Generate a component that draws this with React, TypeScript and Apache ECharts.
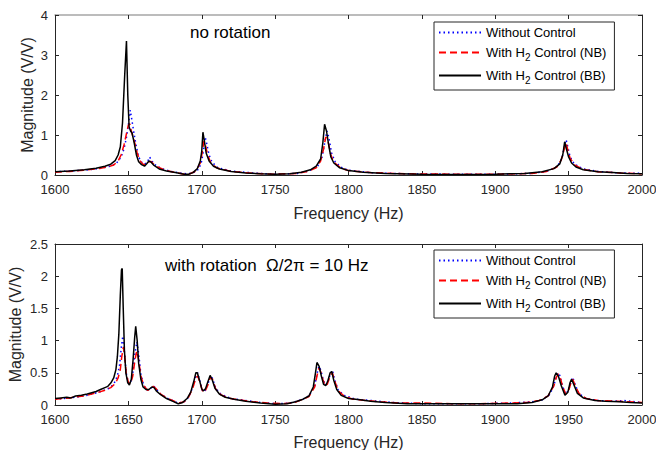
import React, { useEffect, useRef } from "react";
import * as echarts from "echarts";

// Top panel (no rotation)
const topWithout: [number, number][] = [[1600,0.08],[1610,0.1],[1620,0.12],[1630,0.16],[1638,0.22],[1642,0.3],[1645,0.45],[1647,0.65],[1648.5,0.9],[1650,1.25],[1651.3,1.62],[1652.5,1.35],[1654,1.0],[1655.5,0.7],[1657,0.45],[1659,0.32],[1661,0.27],[1663,0.33],[1664.5,0.45],[1666,0.35],[1668,0.26],[1672,0.17],[1678,0.1],[1685,0.05],[1690,0.03],[1694,0.05],[1698,0.15],[1700,0.35],[1701.5,0.7],[1702.3,0.95],[1703.3,0.8],[1705,0.5],[1707,0.32],[1711,0.18],[1720,0.1],[1735,0.05],[1750,0.02],[1765,0.04],[1773,0.1],[1779,0.22],[1782,0.45],[1784,0.85],[1785.3,1.1],[1786.5,0.95],[1788.5,0.55],[1791,0.32],[1796,0.17],[1800,0.12],[1815,0.06],[1840,0.03],[1870,0.02],[1900,0.02],[1925,0.04],[1935,0.09],[1942,0.2],[1945.5,0.42],[1947.3,0.75],[1948.3,0.88],[1949.5,0.7],[1951,0.45],[1954,0.27],[1960,0.15],[1970,0.09],[1985,0.05],[2000,0.04]];
const topNB: [number, number][] = [[1600,0.07],[1610,0.09],[1620,0.12],[1630,0.16],[1636,0.2],[1640,0.25],[1643,0.35],[1645,0.5],[1647,0.75],[1648.5,1.0],[1650,1.25],[1651,1.28],[1652,1.1],[1654,0.85],[1656,0.55],[1658,0.35],[1660,0.27],[1662,0.26],[1664,0.33],[1665.5,0.34],[1667,0.28],[1670,0.2],[1675,0.12],[1682,0.06],[1688,0.02],[1692,0.03],[1696,0.1],[1699,0.3],[1700.5,0.6],[1701.5,0.85],[1702.5,0.75],[1704,0.5],[1706,0.32],[1710,0.18],[1720,0.09],[1735,0.04],[1750,0.02],[1765,0.04],[1772,0.09],[1778,0.18],[1781,0.35],[1783,0.65],[1784.5,0.95],[1786,0.85],[1788,0.5],[1790,0.32],[1795,0.17],[1800,0.11],[1815,0.06],[1840,0.03],[1870,0.02],[1900,0.02],[1925,0.04],[1935,0.09],[1942,0.2],[1945,0.38],[1947,0.65],[1948.3,0.8],[1949.5,0.62],[1951,0.42],[1954,0.25],[1960,0.14],[1970,0.08],[1985,0.05],[2000,0.03]];
const topBB: [number, number][] = [[1600,0.08],[1610,0.1],[1620,0.13],[1628,0.17],[1634,0.22],[1638,0.27],[1641,0.36],[1643,0.5],[1644.5,0.7],[1646,1.3],[1647.5,2.5],[1648.7,3.35],[1649.6,2.0],[1650.5,1.2],[1651.5,1.1],[1652.5,1.05],[1654,0.8],[1655.5,0.5],[1657,0.33],[1659,0.26],[1661,0.22],[1662.5,0.28],[1664,0.35],[1665.5,0.32],[1667.5,0.24],[1671,0.15],[1676,0.1],[1682,0.06],[1688,0.02],[1691,0.02],[1694,0.06],[1697,0.16],[1699,0.35],[1700,0.6],[1700.8,1.07],[1701.8,0.85],[1703,0.55],[1705,0.35],[1708,0.22],[1712,0.15],[1720,0.09],[1730,0.05],[1740,0.03],[1750,0.02],[1760,0.03],[1768,0.07],[1774,0.13],[1778,0.22],[1781,0.4],[1782.5,0.8],[1783.7,1.27],[1785,1.1],[1786.5,0.75],[1788,0.45],[1790,0.3],[1794,0.18],[1800,0.11],[1810,0.07],[1825,0.04],[1850,0.02],[1875,0.01],[1900,0.02],[1920,0.04],[1932,0.08],[1940,0.16],[1944,0.28],[1946,0.5],[1947.3,0.83],[1948.5,0.65],[1950,0.45],[1952,0.3],[1955,0.2],[1960,0.13],[1970,0.08],[1980,0.06],[1990,0.04],[2000,0.03]];

// Bottom panel (with rotation)
const botWithout: [number, number][] = [[1600,0.09],[1610,0.11],[1620,0.14],[1630,0.2],[1636,0.25],[1640,0.32],[1642.5,0.45],[1644,0.62],[1645.2,0.9],[1646.2,1.07],[1647.2,0.85],[1648.5,0.5],[1650,0.34],[1651.5,0.34],[1653,0.5],[1654.5,0.8],[1655.8,0.98],[1657,0.8],[1658.5,0.48],[1660.5,0.3],[1663,0.23],[1665,0.25],[1667,0.3],[1669,0.25],[1672,0.17],[1676,0.11],[1680,0.07],[1684,0.03],[1688,0.05],[1691,0.12],[1694,0.28],[1696,0.45],[1697.2,0.5],[1699,0.35],[1700.5,0.22],[1702,0.21],[1704,0.31],[1706,0.45],[1707.2,0.42],[1709.5,0.26],[1713,0.17],[1720,0.1],[1730,0.07],[1740,0.04],[1750,0.02],[1760,0.03],[1768,0.08],[1773,0.14],[1777,0.3],[1778.5,0.48],[1779.8,0.6],[1781,0.55],[1782.5,0.42],[1784,0.31],[1785.5,0.33],[1787.5,0.47],[1789,0.54],[1790.5,0.4],[1793,0.23],[1797,0.15],[1805,0.09],[1815,0.07],[1830,0.04],[1850,0.02],[1870,0.02],[1890,0.02],[1910,0.03],[1925,0.05],[1932,0.08],[1937,0.16],[1940,0.3],[1941.5,0.44],[1942.8,0.5],[1944,0.46],[1946,0.28],[1948,0.17],[1950,0.23],[1951.8,0.38],[1952.8,0.43],[1954.5,0.31],[1957,0.18],[1962,0.1],[1970,0.07],[1980,0.06],[1988,0.07],[1995,0.05],[2000,0.04]];
const botNB: [number, number][] = [[1600,0.09],[1605,0.1],[1610,0.11],[1615,0.13],[1620,0.14],[1625,0.17],[1630,0.2],[1634,0.23],[1638,0.27],[1641,0.33],[1643,0.42],[1644.5,0.55],[1645.5,0.75],[1646.6,0.9],[1647.5,0.75],[1648.5,0.5],[1650,0.35],[1651.5,0.33],[1653,0.45],[1654.5,0.7],[1655.7,0.84],[1657,0.7],[1658.5,0.45],[1660.5,0.3],[1663,0.23],[1665,0.24],[1667,0.29],[1669,0.25],[1672,0.17],[1676,0.11],[1680,0.07],[1684,0.03],[1688,0.05],[1691,0.12],[1694,0.27],[1696,0.42],[1697.3,0.45],[1699,0.33],[1700.5,0.22],[1702,0.2],[1704,0.3],[1706,0.43],[1707.3,0.4],[1709.5,0.25],[1713,0.16],[1718,0.11],[1725,0.08],[1735,0.05],[1745,0.03],[1755,0.02],[1762,0.03],[1768,0.08],[1773,0.13],[1777,0.28],[1778.5,0.45],[1779.8,0.57],[1781,0.52],[1782.5,0.4],[1784,0.3],[1785.5,0.32],[1787.5,0.45],[1789,0.5],[1790.5,0.38],[1793,0.22],[1797,0.14],[1803,0.09],[1812,0.07],[1822,0.05],[1835,0.03],[1850,0.03],[1870,0.02],[1890,0.02],[1910,0.03],[1922,0.04],[1930,0.07],[1936,0.14],[1940,0.3],[1941.5,0.42],[1942.8,0.48],[1944,0.45],[1946,0.28],[1948,0.17],[1950,0.22],[1951.8,0.36],[1952.8,0.4],[1954.5,0.3],[1957,0.18],[1962,0.1],[1970,0.07],[1980,0.06],[1990,0.05],[2000,0.04]];
const botBB: [number, number][] = [[1600,0.1],[1604,0.11],[1608,0.12],[1611,0.11],[1614,0.14],[1618,0.15],[1622,0.17],[1625,0.19],[1628,0.21],[1631,0.24],[1634,0.27],[1636,0.29],[1638,0.34],[1640,0.42],[1641.5,0.55],[1642.5,0.75],[1643.5,1.1],[1644.5,1.7],[1645.3,2.1],[1645.8,2.12],[1646.5,1.5],[1647.3,0.85],[1648.3,0.5],[1649.5,0.35],[1650.7,0.31],[1652,0.4],[1653.2,0.7],[1654.3,1.05],[1655,1.22],[1656,1.0],[1657,0.65],[1658.5,0.4],[1660,0.28],[1662,0.24],[1664,0.24],[1666,0.28],[1667.5,0.27],[1669,0.22],[1672,0.16],[1676,0.1],[1680,0.06],[1684,0.02],[1687,0.04],[1690,0.1],[1692.5,0.2],[1694.5,0.36],[1696,0.5],[1697,0.5],[1698.5,0.38],[1700,0.25],[1701,0.22],[1702.5,0.25],[1704,0.35],[1705.7,0.46],[1707,0.4],[1709,0.26],[1712,0.17],[1716,0.12],[1722,0.09],[1730,0.06],[1740,0.03],[1750,0.01],[1758,0.02],[1764,0.05],[1769,0.09],[1773,0.14],[1776,0.28],[1777.5,0.5],[1778.5,0.66],[1780,0.6],[1781.5,0.45],[1783,0.32],[1784.5,0.3],[1786,0.38],[1787.5,0.5],[1788.6,0.52],[1790,0.38],[1792,0.24],[1795,0.15],[1800,0.1],[1808,0.08],[1815,0.06],[1825,0.04],[1840,0.02],[1860,0.02],[1880,0.02],[1900,0.02],[1915,0.02],[1925,0.04],[1932,0.08],[1936,0.14],[1939,0.28],[1940.5,0.45],[1941.5,0.5],[1943,0.45],[1945,0.3],[1947.5,0.15],[1949.5,0.2],[1951,0.35],[1952,0.4],[1953.5,0.32],[1956,0.18],[1960,0.11],[1968,0.07],[1975,0.06],[1985,0.05],[1992,0.04],[2000,0.03]];

const seriesNames = ["Without Control", "With H2 Control (NB)", "With H2 Control (BB)"];
const panelTitles = ["no rotation", "with rotation  Ω/2π = 10 Hz"];
const yMax = [4, 2.5];
const yInterval = [1, 0.5];

const FONT = "'Liberation Sans', Arial, Helvetica, sans-serif";
const AX = "#262626";

export default function App() {
  const ref = useRef<HTMLDivElement>(null);
  useEffect(() => {
    if (!ref.current) return;
    const chart = echarts.init(ref.current, undefined, { renderer: "svg" });
    const grids = [
      { left: 55, top: 15, width: 587, height: 160, outerBoundsMode: "none", containLabel: false },
      { left: 55, top: 244, width: 587, height: 161, outerBoundsMode: "none", containLabel: false },
    ];
    const xAxes: any[] = [];
    const yAxes: any[] = [];
    grids.forEach((_, g) => {
      xAxes.push({
        gridIndex: g, type: "value", min: 1600, max: 2000, interval: 50,
        axisLine: { onZero: false, lineStyle: { color: AX, width: 1 } },
        axisTick: { inside: true, length: 4, lineStyle: { color: AX } },
        axisLabel: { color: AX, fontSize: 13, fontFamily: FONT, margin: 8, formatter: (v: number) => String(v) },
        splitLine: { show: false },
        name: "Frequency (Hz)", nameLocation: "middle", nameGap: g === 0 ? 30 : 29, nameMoveOverlap: false,
        nameTextStyle: { color: AX, fontSize: 16, fontFamily: FONT },
      });
      xAxes.push({
        gridIndex: g, type: "value", min: 1600, max: 2000, interval: 50, position: "top",
        axisLine: { onZero: false, lineStyle: { color: g === 0 ? "#a6a6a6" : AX, width: g === 0 ? 1.5 : 1 } },
        axisTick: { inside: true, length: 4, lineStyle: { color: AX } },
        axisLabel: { show: false }, splitLine: { show: false },
      });
      yAxes.push({
        gridIndex: g, type: "value", min: 0, max: yMax[g], interval: yInterval[g],
        axisLine: { show: true, onZero: false, lineStyle: { color: AX } },
        axisTick: { show: true, inside: true, length: 4, lineStyle: { color: AX } },
        axisLabel: { color: AX, fontSize: 13, fontFamily: FONT, margin: 7 },
        splitLine: { show: false },
        name: "Magnitude (V/V)", nameLocation: "middle", nameGap: g === 0 ? 20 : 32, nameMoveOverlap: false,
        nameTextStyle: { color: AX, fontSize: 16, fontFamily: FONT },
      });
      yAxes.push({
        gridIndex: g, type: "value", min: 0, max: yMax[g], interval: yInterval[g], position: "right",
        axisLine: { show: true, onZero: false, lineStyle: { color: AX } },
        axisTick: { show: true, inside: true, length: 4, lineStyle: { color: AX } },
        axisLabel: { show: false }, splitLine: { show: false },
      });
    });
    const styles = [
      { color: "#0000ff", type: [1.5, 3] as any, width: 1.5 },
      { color: "#ff0000", type: [7, 4] as any, width: 1.5 },
      { color: "#000000", type: "solid", width: 1.5 },
    ];
    const panels = [
      [topWithout, topNB, topBB],
      [botWithout, botNB, botBB],
    ];
    const series: any[] = [];
    panels.forEach((arrs, g) => {
      arrs.forEach((d, i) => {
        series.push({
          type: "line", name: seriesNames[i], data: d,
          xAxisIndex: g * 2, yAxisIndex: g * 2,
          showSymbol: false, symbol: "none", smooth: false,
          lineStyle: { ...styles[i] }, itemStyle: { color: styles[i].color },
          z: 2 + i,
        });
      });
    });
    const legendTops = [22, 250];
    const legends = legendTops.map((t) => ({
      data: seriesNames, orient: "vertical", left: 434, top: t,
      width: 177, itemWidth: 42, itemHeight: 14, itemGap: 7,
      padding: [4, 8, 5, 4], borderColor: AX, borderWidth: 1, backgroundColor: "#fff",
      selectedMode: false,
      itemStyle: { opacity: 0 },
      textStyle: {
        color: "#000", fontSize: 13, fontFamily: FONT,
        rich: { sub: { fontSize: 10, fontFamily: FONT, color: "#000", padding: [9, 0, 0, 0] } },
      },
      formatter: (n: string) => n.replace("H2", "H{sub|2}"),
    }));
    chart.setOption({
      animation: false,
      backgroundColor: "#fff",
      textStyle: { fontFamily: FONT },
      grid: grids,
      xAxis: xAxes,
      yAxis: yAxes,
      legend: legends,
      title: [
        { text: panelTitles[0], left: 190, top: 24, padding: 0, textStyle: { fontSize: 17, fontWeight: "normal", color: "#000", fontFamily: FONT } },
        { text: panelTitles[1], left: 165, top: 257, padding: 0, textStyle: { fontSize: 17, fontWeight: "normal", color: "#000", fontFamily: FONT } },
      ],
      series,
    });
    return () => chart.dispose();
  }, []);
  return <div ref={ref} style={{ position: "fixed", left: 0, top: 0, width: 656, height: 450, background: "#fff" }} />;
}
